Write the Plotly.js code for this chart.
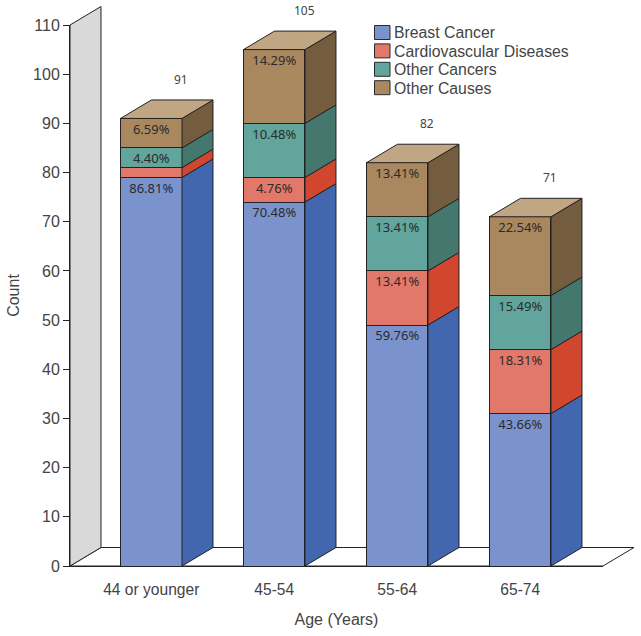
<!DOCTYPE html>
<html>
<head>
<meta charset="utf-8">
<script src="https://cdn.plot.ly/plotly-3.0.1.min.js"></script>
<style>html,body{margin:0;padding:0;background:#fff}</style>
</head>
<body>
<div id="chart" style="width:641px;height:636px"></div>
<script>
// ----- data -----
var categories = ['44 or younger', '45-54', '55-64', '65-74'];
var seriesNames = ['Breast Cancer', 'Cardiovascular Diseases', 'Other Cancers', 'Other Causes'];
var breastCancer = [79, 74, 49, 31];
var cardiovascular = [2, 5, 11, 13];
var otherCancers = [4, 11, 11, 11];
var otherCauses = [6, 15, 11, 16];
var totals = [91, 105, 82, 71];
var breastPct = ['86.81%', '70.48%', '59.76%', '43.66%'];
var cardioPct = ['', '4.76%', '13.41%', '18.31%'];
var cancersPct = ['4.40%', '10.48%', '13.41%', '15.49%'];
var causesPct = ['6.59%', '14.29%', '13.41%', '22.54%'];
var yTicks = [0, 10, 20, 30, 40, 50, 60, 70, 80, 90, 100, 110];

// ----- style -----
var frontColors = ['#7b93cc', '#e2786a', '#61a59c', '#a98860'];
var sideColors = ['#4267ae', '#d1462f', '#44786f', '#745c3f'];
var topColor = '#c1a684';
var edge = '#222222';
var textColor = '#444444';
var sans = '"Liberation Sans", Arial, sans-serif';
var noto = '"Noto Sans", "DejaVu Sans", sans-serif';

// ----- pseudo-3D geometry in axis units -----
var xRange = [-0.6606, 3.673];
var yRange = [0, 110];
var barW = 0.5;
var depthX = 0.252;
var depthY = 3.76;
var positions = categories.map(function (_, i) { return i; });
var allValues = [breastCancer, cardiovascular, otherCancers, otherCauses];
var allPct = [breastPct, cardioPct, cancersPct, causesPct];

function px(x) { return (x - xRange[0]) / (xRange[1] - xRange[0]); }
function py(y) { return (y - yRange[0]) / (yRange[1] - yRange[0]); }
function pathOf(pts) {
  return pts.map(function (p, i) { return (i ? 'L' : 'M') + px(p[0]) + ',' + py(p[1]); }).join(' ') + ' Z';
}

var traces = [];
var base = positions.map(function () { return 0; });
var labelX = [], labelY = [], labelT = [];

allValues.forEach(function (vals, s) {
  traces.push({
    type: 'bar', name: seriesNames[s], x: positions, y: vals, width: barW,
    marker: { color: frontColors[s], line: { color: edge, width: 1 } },
    hoverinfo: 'skip', showlegend: false
  });
  var sx = [], sy = [];
  positions.forEach(function (p, i) {
    var r = p + barW / 2, y0 = base[i], y1 = base[i] + vals[i];
    sx.push(r, r + depthX, r + depthX, r, r, null);
    sy.push(y0, y0 + depthY, y1 + depthY, y1, y0, null);
    if (allPct[s][i]) { labelX.push(p); labelY.push(y1 - 2.45); labelT.push(allPct[s][i]); }
    base[i] = y1;
  });
  traces.push({
    type: 'scatter', mode: 'lines', x: sx, y: sy, fill: 'toself', fillcolor: sideColors[s],
    line: { color: edge, width: 1 }, showlegend: false, hoverinfo: 'skip', cliponaxis: false
  });
});

var tx = [], ty = [];
positions.forEach(function (p, i) {
  var l = p - barW / 2, r = p + barW / 2, t = totals[i];
  tx.push(l, l + depthX, r + depthX, r, l, null);
  ty.push(t, t + depthY, t + depthY, t, t, null);
});
traces.push({
  type: 'scatter', mode: 'lines', x: tx, y: ty, fill: 'toself', fillcolor: topColor,
  line: { color: edge, width: 1 }, showlegend: false, hoverinfo: 'skip', cliponaxis: false
});

traces.push({
  type: 'scatter', mode: 'text', x: labelX, y: labelY, text: labelT,
  textposition: 'middle center', textfont: { family: noto, size: 13, color: '#2a2a2a' },
  showlegend: false, hoverinfo: 'skip', cliponaxis: false
});

// total labels sit above the plot range for the tallest bar, so they use a paper-height annotation
var annotations = positions.map(function (p, i) {
  return {
    xref: 'x', yref: 'paper', x: p + depthX - 0.01, y: py(totals[i] + 7.9),
    text: String(totals[i]), showarrow: false, xanchor: 'center', yanchor: 'middle',
    font: { family: noto, size: 12, color: textColor }
  };
});

var wall = [[xRange[0], 0], [xRange[0] + depthX, depthY], [xRange[0] + depthX, 110 + depthY], [xRange[0], 110]];
var floor = [[xRange[0], 0], [xRange[1], 0], [xRange[1] + depthX, depthY], [xRange[0] + depthX, depthY]];
var shapes = [
  { type: 'path', xref: 'paper', yref: 'paper', layer: 'below', path: pathOf(floor), fillcolor: '#ffffff', line: { color: edge, width: 1 } },
  { type: 'path', xref: 'paper', yref: 'paper', layer: 'below', path: pathOf(wall), fillcolor: '#d9d9d9', line: { color: edge, width: 1 } }
];

// legend: swatch + name, laid out in pixels of the page
var plotW = 641 - 70 - 38, plotH = 636 - 25 - 70;
function paperX(pix) { return (pix - 70) / plotW; }
function paperY(pix) { return (566 - pix) / plotH; }
seriesNames.forEach(function (name, s) {
  var top = 25.5 + s * 18.4;
  shapes.push({
    type: 'rect', xref: 'paper', yref: 'paper', layer: 'above',
    x0: paperX(374.5), x1: paperX(390), y0: paperY(top + 14), y1: paperY(top),
    fillcolor: frontColors[s], line: { color: '#2a2a2a', width: 1 }
  });
  annotations.push({
    xref: 'paper', yref: 'paper', x: paperX(394), y: paperY(top + 7.5),
    text: name, showarrow: false, xanchor: 'left', yanchor: 'middle',
    xshift: -1, height: 17, font: { family: sans, size: 15.8, color: textColor }, borderpad: 0
  });
});

var layout = {
  width: 641, height: 636,
  margin: { l: 70, r: 38, t: 25, b: 70, pad: 0 },
  paper_bgcolor: '#ffffff', plot_bgcolor: 'rgba(0,0,0,0)',
  barmode: 'stack', showlegend: false,
  font: { family: sans, color: textColor },
  xaxis: {
    type: 'linear', range: xRange, tickmode: 'array', tickvals: positions, ticktext: categories,
    showgrid: false, zeroline: false, showline: true, linecolor: edge, linewidth: 1,
    ticks: 'outside', ticklen: 9, tickcolor: 'rgba(0,0,0,0)',
    tickfont: { family: sans, size: 15.6, color: textColor },
    title: { text: 'Age (Years)', font: { family: sans, size: 16, color: textColor }, standoff: 17 }
  },
  yaxis: {
    range: yRange, tickmode: 'array', tickvals: yTicks,
    showgrid: false, zeroline: false, showline: true, linecolor: edge, linewidth: 1,
    ticks: 'outside', ticklen: 6, tickcolor: edge,
    tickfont: { family: sans, size: 16, color: textColor },
    title: { text: 'Count', font: { family: sans, size: 16, color: textColor }, standoff: 9 }
  },
  shapes: shapes,
  annotations: annotations
};

Plotly.newPlot('chart', traces, layout, { displayModeBar: false, staticPlot: true });
</script>
</body>
</html>
